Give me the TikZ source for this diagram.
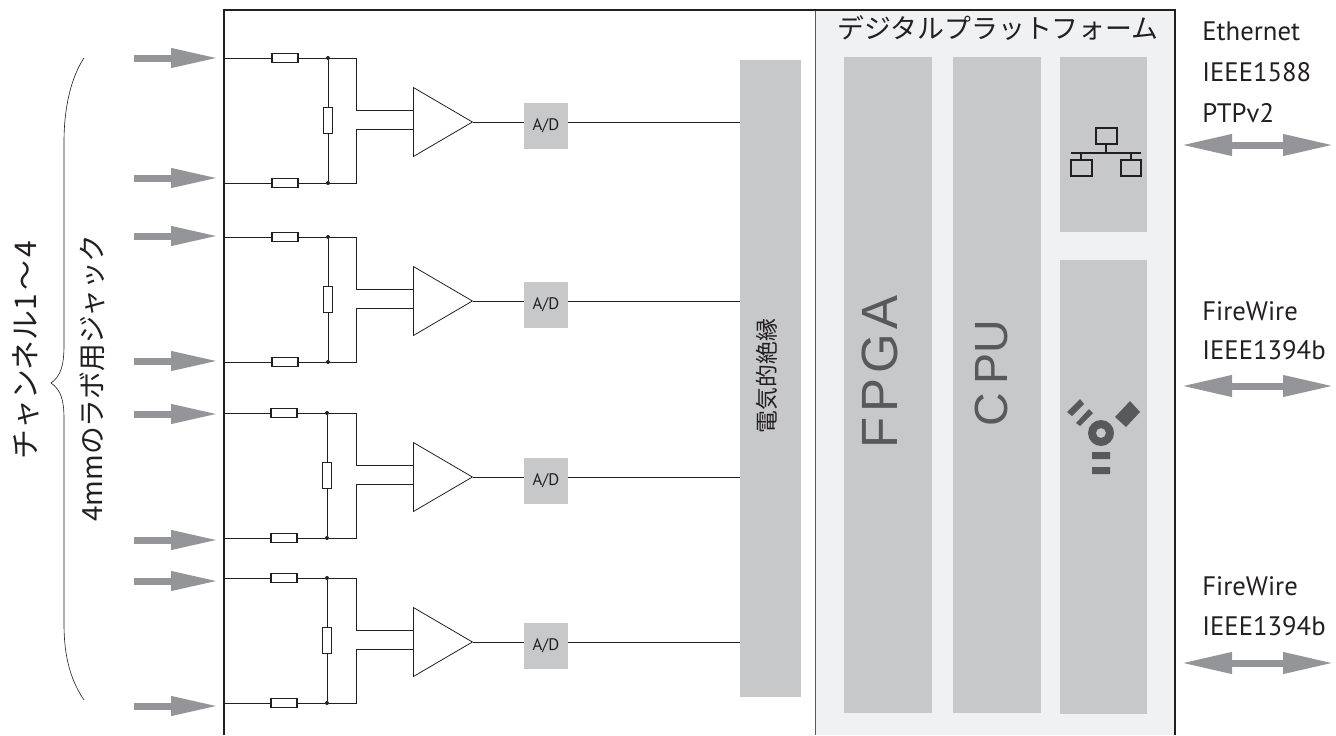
\documentclass[tikz,border=0pt]{standalone}
\usepackage{fontspec}
\setmainfont{PT Sans}
\setsansfont{Liberation Sans}
\newfontfamily\cjk{Noto Sans CJK JP}
\usepackage{xcolor}
\usetikzlibrary{arrows.meta,positioning,calc,shapes.geometric}
\definecolor{Panel}{HTML}{F0F1F3}
\definecolor{Block}{HTML}{C7C8CA}
\definecolor{Pointer}{HTML}{939598}
\definecolor{Glyph}{HTML}{58595B}
\definecolor{Ink}{HTML}{231F20}
\tikzset{
  blockbox/.style={fill=Block,inner sep=0pt,text=Ink},
  resbox/.style={draw=Ink,fill=white,line width=0.7pt,inner sep=0pt},
  wire/.style={draw=Ink,line width=0.45pt},
  pointer/.style={draw=Pointer,line width=.14cm,-{Triangle[length=.96cm,width=.36cm]}},
  bipointer/.style={draw=Pointer,line width=.14cm,{Triangle[length=1.02cm,width=.4cm]}-{Triangle[length=1.02cm,width=.4cm]}},
  label/.style={text=Ink,font=\fontsize{15.2}{18}\selectfont,anchor=west,inner sep=0pt},
}
\begin{document}
\begin{tikzpicture}[x=.02cm,y=-.02cm]
  \useasboundingbox (0,0) rectangle (1336,735);
  % digital side
  \fill[Panel] (815,10) rectangle (1175,735);
  \draw[Glyph,line width=.4pt] (815,10) -- (815,735);
  \draw[Ink,line width=1.1pt] (224,735) -- (224,10) -- (1175,10) -- (1175,735);
  \node[text=Ink,font=\cjk\fontsize{15.3}{18}\selectfont,inner sep=0pt] (plat) at (998,28) {デジタルプラットフォーム};
  \node[blockbox,minimum width=61*.02cm,minimum height=637*.02cm] (iso) at (770.5,378.5) {};
  \node[text=Ink,rotate=90,font=\cjk\fontsize{13}{15}\selectfont,inner sep=0pt] (isotxt) at (767,376) {電気的絶縁};
  \node[blockbox,minimum width=88*.02cm,minimum height=656*.02cm] (fpga) at (888,385) {};
  \node[text=Glyph,rotate=90,font=\sffamily\fontsize{29}{34}\selectfont,inner sep=0pt] (fpgatxt) at (880,372) {F\kern2.6pt P\kern2.6pt G\kern2.6pt A};
  \node[blockbox,minimum width=88*.02cm,minimum height=656*.02cm] (cpu) at (997,385) {};
  \node[text=Glyph,rotate=90,font=\sffamily\fontsize{26.5}{31}\selectfont,inner sep=0pt] (cputxt) at (991,373) {C\kern5pt PU};
  \node[blockbox,minimum width=87*.02cm,minimum height=175*.02cm] (eth) at (1103.5,144.5) {};
  \node[blockbox,minimum width=87*.02cm,minimum height=454*.02cm] (fw) at (1103.5,487) {};
  % ethernet icon
  \draw[Ink,line width=.75pt] (1096,128) rectangle (1117,144);
  \draw[Ink,line width=.75pt] (1071,160) rectangle (1092,176);
  \draw[Ink,line width=.75pt] (1121,160) rectangle (1141,176);
  \draw[Ink,line width=.75pt] (1071,153) -- (1141,153) (1106,144) -- (1106,153) (1081,153) -- (1081,160) (1131,153) -- (1131,160);
  % firewire icon
  \fill[Glyph,even odd rule] (1101,433) circle (13) (1101,433) circle (5);
  \fill[Glyph] (1092,452) rectangle (1110,459) (1092,467) rectangle (1110,474);
  \fill[Glyph] (1115,417) -- (1130,401) -- (1140,412) -- (1126,427) -- cycle;
  \fill[Glyph] (1067,412) -- (1080,399) -- (1084,404) -- (1072,416) -- cycle;
  \fill[Glyph] (1076,423) -- (1089,409) -- (1093,413) -- (1080,426) -- cycle;
  % channels
  \foreach \c/\ytop/\ybot/\yin/\yout/\ymid/\xin in {1/58/183/58/178/122/272,2/237/362/236/361/301/272,3/413/538/414/540/477/271,4/578/703/581/706/642/271}{
    \coordinate (jacktop\c) at (224,\ytop);
    \coordinate (jackbot\c) at (224,\ybot);
    \node[resbox,minimum width=.52cm,minimum height=.18cm] (rtop\c) at (\xin+13,\ytop) {};
    \node[resbox,minimum width=.52cm,minimum height=.18cm] (rbot\c) at (\xin+13,\ybot) {};
    \node[resbox,minimum width=.18cm,minimum height=.52cm,line width=.45pt] (rmid\c) at (\xin+56,\ytop/2+\ybot/2) {};
    \node[circle,fill=Ink,inner sep=0pt,minimum size=.08cm] (dtop\c) at (rmid\c |- rtop\c) {};
    \node[circle,fill=Ink,inner sep=0pt,minimum size=.08cm] (dbot\c) at (rmid\c |- rbot\c) {};
    \node[draw=Ink,fill=white,line width=.45pt,isosceles triangle,isosceles triangle apex angle=60,isosceles triangle stretches,minimum width=69*.02cm,minimum height=59*.02cm,inner sep=0pt,anchor=west] (amp\c) at (413,\ymid) {};
    \node[blockbox,minimum width=44*.02cm,minimum height=46*.02cm,font=\fontsize{9.5}{11}\selectfont] (ad\c) at (546,\ymid+4) {A/D};
    \coordinate (intop\c) at (413,\ymid-12);
    \coordinate (inbot\c) at (413,\ymid+7);
    \coordinate (ptfrom\c) at (134,\yin);
    \coordinate (ptto\c) at (219,\yin);
    \coordinate (pbfrom\c) at (134,\yout);
    \coordinate (pbto\c) at (219,\yout);
    \draw[pointer] (ptfrom\c) -- (ptto\c);
    \draw[pointer] (pbfrom\c) -- (pbto\c);
    \draw[wire] (jacktop\c) -- (rtop\c) -- (dtop\c);
    \draw[wire] (jackbot\c) -- (rbot\c) -- (dbot\c);
    \draw[wire] (dtop\c) -- (rmid\c) -- (dbot\c);
    \draw[wire] (dtop\c) -| ($(intop\c)+(-57,0)$) -- (intop\c);
    \draw[wire] (dbot\c) -| ($(inbot\c)+(-57,0)$) -- (inbot\c);
    \draw[wire] (amp\c.apex) -- (ad\c.west |- amp\c.apex);
    \draw[wire] (ad\c.east |- amp\c.apex) -- (iso.west |- amp\c.apex);
  }
  % network labels
  \node[label] (ethl1) at (1202,31) {Ethernet};
  \node[label] (ethl2) at (1202,72) {IEEE1588};
  \node[label] (ethl3) at (1202,113) {PTPv2};
  \node[label] (fwal1) at (1202,311) {FireWire};
  \node[label] (fwal2) at (1202,350) {IEEE1394b};
  \node[label] (fwbl1) at (1202,586) {FireWire};
  \node[label] (fwbl2) at (1202,626) {IEEE1394b};
  \coordinate (ethfrom) at (1181,145);
  \coordinate (ethto) at (1334,145);
  \coordinate (fwafrom) at (1181,386);
  \coordinate (fwato) at (1334,386);
  \coordinate (fwbfrom) at (1181,663);
  \coordinate (fwbto) at (1334,663);
  \draw[bipointer] (ethfrom) -- (ethto);
  \draw[bipointer] (fwafrom) -- (fwato);
  \draw[bipointer] (fwbfrom) -- (fwbto);
  % brace and jack labels
  \draw[Ink,line width=.35pt] (84,58) .. controls (72,76) and (64,105) .. (64,142) -- (64,345) .. controls (64,365) and (61,376) .. (51,383) .. controls (61,390) and (64,400) .. (64,419) -- (64,624) .. controls (64,660) and (72,682) .. (84,700);
  \node[text=Ink,rotate=90,font=\cjk\fontsize{17}{20}\selectfont,inner sep=0pt] (chan) at (26,350) {チャンネル1\kern2pt ～\kern2pt 4};
  \node[text=Ink,rotate=90,font=\cjk\fontsize{15.8}{19}\selectfont,inner sep=0pt] (jack) at (92,378) {4mmのラボ用ジャック};
\end{tikzpicture}
\end{document}
